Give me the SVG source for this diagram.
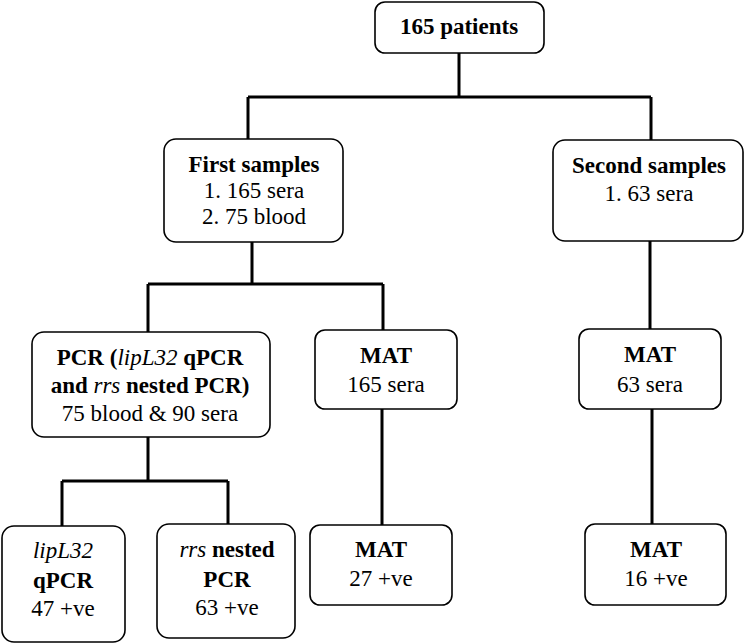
<svg xmlns="http://www.w3.org/2000/svg" width="746" height="644" viewBox="0 0 746 644">
<style>
.box{fill:#fff;stroke:#000;stroke-width:1.6}
.t{font-family:"Liberation Serif","Times New Roman",serif;font-size:23px;fill:#000;text-anchor:middle}
.b{font-weight:bold}
.i{font-style:italic}
.c{fill:none;stroke:#000;stroke-width:3}
</style>
<rect width="746" height="644" fill="#fff"/>
<g id="connectors">
<path class="c" d="M459,53V97M248,97H651M248,97V140M651,97V141"/>
<path class="c" d="M252,242V284M148,284H383M148,284V332M383,284V330"/>
<path class="c" d="M650,241V329M652,409V524M382,409V525"/>
<path class="c" d="M148,437V481M62,481H228M62,481V526M228,481V524"/>
</g>
<g id="n1"><rect class="box" x="375" y="2" width="169" height="51" rx="10"/><text class="t b" x="459" y="34">165 patients</text></g>
<g id="n2"><rect class="box" x="164" y="139" width="179" height="103" rx="12"/>
<text class="t" x="254" y="172"><tspan class="b">First samples</tspan><tspan x="254" y="198">1. 165 sera</tspan><tspan x="254" y="224">2. 75 blood</tspan></text></g>
<g id="n3"><rect class="box" x="553" y="140" width="190" height="101" rx="12"/>
<text class="t" x="649" y="173"><tspan class="b">Second samples</tspan><tspan x="649" y="201">1. 63 sera</tspan></text></g>
<g id="n4"><rect class="box" x="32" y="332" width="238" height="105" rx="12"/>
<text class="t" x="150" y="365"><tspan class="b">PCR (</tspan><tspan class="i">lipL32</tspan><tspan class="b"> qPCR</tspan><tspan x="150" y="393" class="b">and </tspan><tspan class="i">rrs</tspan><tspan class="b"> nested PCR)</tspan><tspan x="150" y="421">75 blood &amp; 90 sera</tspan></text></g>
<g id="n5"><rect class="box" x="315" y="330" width="142" height="79" rx="10"/>
<text class="t" x="386" y="363"><tspan class="b">MAT</tspan><tspan x="386" y="392">165 sera</tspan></text></g>
<g id="n6"><rect class="box" x="579" y="329" width="142" height="80" rx="10"/>
<text class="t" x="650" y="362"><tspan class="b">MAT</tspan><tspan x="650" y="392">63 sera</tspan></text></g>
<g id="n7"><rect class="box" x="2" y="526" width="123" height="116" rx="12"/>
<text class="t" x="63" y="558"><tspan class="i">lipL32</tspan><tspan x="63" y="588" class="b">qPCR</tspan><tspan x="63" y="616">47 +ve</tspan></text></g>
<g id="n8"><rect class="box" x="157" y="524" width="138" height="114" rx="12"/>
<text class="t" x="227" y="557"><tspan class="i">rrs</tspan><tspan class="b"> nested</tspan><tspan x="227" y="587" class="b">PCR</tspan><tspan x="227" y="615">63 +ve</tspan></text></g>
<g id="n9"><rect class="box" x="310" y="525" width="142" height="80" rx="10"/>
<text class="t" x="381" y="557"><tspan class="b">MAT</tspan><tspan x="381" y="586">27 +ve</tspan></text></g>
<g id="n10"><rect class="box" x="585" y="524" width="141" height="81" rx="10"/>
<text class="t" x="656" y="557"><tspan class="b">MAT</tspan><tspan x="656" y="586">16 +ve</tspan></text></g>
</svg>
